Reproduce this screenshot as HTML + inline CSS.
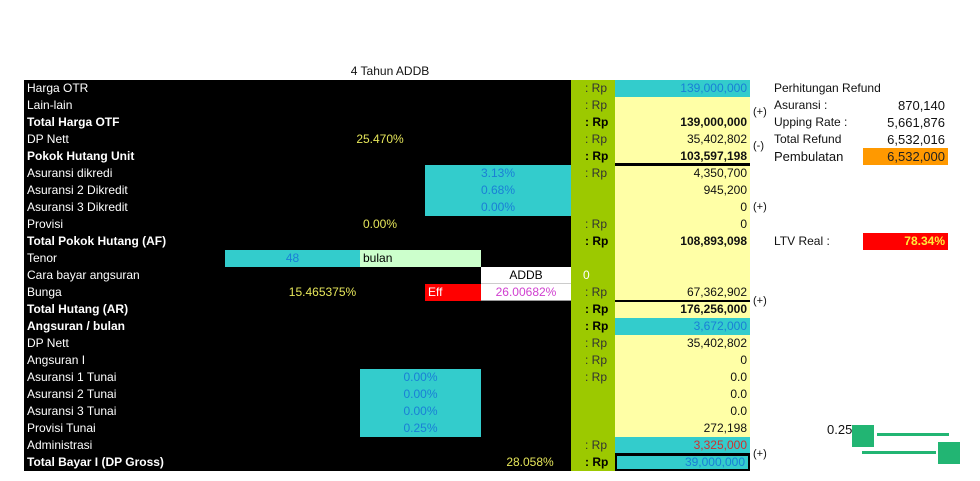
<!DOCTYPE html>
<html><head><meta charset="utf-8"><style>
body{margin:0;width:980px;height:481px;background:#fff;position:relative;overflow:hidden;font-family:"Liberation Sans",sans-serif;font-size:12px}
div.c{position:absolute;height:17px;line-height:17px;box-sizing:border-box;white-space:nowrap;overflow:hidden}
</style></head><body>
<div class="c" style="left:24px;top:80px;width:547px;height:391px;background:#000"></div>
<div class="c" style="left:571px;top:80px;width:44px;height:391px;background:#9cc900"></div>
<div class="c" style="left:615px;top:80px;width:135px;height:391px;background:#ffffa6"></div>
<div class="c" style="left:330px;top:63px;width:120px;text-align:center;color:#111">4 Tahun ADDB</div>
<div id="root"></div>
<script>
const labels=["Harga OTR","Lain-lain","Total Harga OTF","DP Nett","Pokok Hutang Unit","Asuransi dikredi","Asuransi 2 Dikredit","Asuransi 3 Dikredit","Provisi","Total Pokok Hutang (AF)","Tenor","Cara bayar angsuran","Bunga","Total Hutang (AR)","Angsuran / bulan","DP Nett","Angsuran I","Asuransi 1 Tunai","Asuransi 2 Tunai","Asuransi 3 Tunai","Provisi Tunai","Administrasi","Total Bayar I (DP Gross)"];
const bold=[2,4,9,13,14,22];
const rpRows=[0,1,2,3,4,5,8,9,12,13,14,15,16,17,21,22];
const values=["139,000,000","","139,000,000","35,402,802","103,597,198","4,350,700","945,200","0","0","108,893,098","","","67,362,902","176,256,000","3,672,000","35,402,802","0","0.0","0.0","0.0","272,198","3,325,000","39,000,000"];
const R=80,H=17;
function cell(x,y,w,txt,st,name,inter){
 const d=document.createElement('div');d.className='c';
 d.style.cssText=`left:${x}px;top:${y}px;width:${w}px;`+(st||'');
 d.textContent=txt;
 
 
 document.body.appendChild(d);return d;}
labels.forEach((l,i)=>{
 const y=R+H*i,b=bold.includes(i);
 cell(27,y,200,l,'color:#fff;'+(b?'font-weight:bold;':''),'row-label',false);
 if(rpRows.includes(i))cell(585,y,30,': Rp','color:#333;'+(b?'font-weight:bold;color:#000;':''),'rp-label',false);
 let st='text-align:right;padding-right:3px;color:#111;'+(b?'font-weight:bold;':'');
 if(i==0||i==14||i==22)st+='background:#33cccc;color:#1a7fd6;font-weight:normal;';
 if(i==21)st+='background:#33cccc;color:#d03030;';
 if(i==22)st+='border:2px solid #000;line-height:13px;';
 if(values[i]!=='')cell(615,y,135,values[i],st,'value-cell',true);
});
// lines
cell(615,R+H*5-2,135,'','height:3px;background:#000','underline',false);
cell(615,R+H*13-1,135,'','height:2px;background:#000','underline',false);
cell(615,R+H*22-1,135,'','height:2px;background:#000','underline',false);
// percent inputs
const pctDik=["3.13%","0.68%","0.00%"];
pctDik.forEach((p,k)=>cell(425,R+H*(5+k),146,p,'background:#33cccc;color:#1a7fd6;text-align:center','asuransi-kredit-rate',true));
const pctTun=["0.00%","0.00%","0.00%","0.25%"];
pctTun.forEach((p,k)=>cell(360,R+H*(17+k),121,p,'background:#33cccc;color:#1a7fd6;text-align:center','asuransi-tunai-rate',true));
cell(340,R+H*3,80,'25.470%','color:#e6e65a;text-align:center','dp-percent',false);
cell(340,R+H*8,80,'0.00%','color:#e6e65a;text-align:center','provisi-percent',false);
cell(270,R+H*12,105,'15.465375%','color:#e6e65a;text-align:center','bunga-rate',true);
cell(490,R+H*22,80,'28.058%','color:#e6e65a;text-align:center','dp-gross-percent',false);
cell(225,R+H*10,135,'48','background:#33cccc;color:#1a7fd6;text-align:center','tenor-input',true);
cell(360,R+H*10,121,'bulan','background:#ccffcc;color:#000;padding-left:3px','tenor-unit',false);
cell(481,R+H*11,90,'ADDB','background:#fff;color:#000;text-align:center;border-bottom:1px solid #ccc','payment-method',true);
cell(571,R+H*11,30,'0','color:#fff;padding-left:12px','payment-code',false);
cell(425,R+H*12,56,'Eff','background:#f00;color:#fff;padding-left:3px','eff-label',false);
cell(481,R+H*12,90,'26.00682%','background:#fff;color:#d040d0;text-align:center;border-bottom:1px solid #999','eff-rate',false);
// operators
[[1.4,'(+)'],[3.4,'(-)'],[7,'(+)'],[12.5,'(+)'],[21.5,'(+)']].forEach(([r,t])=>cell(753,R+H*r,20,t,'color:#111;font-size:11px','operator-sign',false));
// refund panel
cell(774,80,150,'Perhitungan Refund','color:#111','refund-title',false);
const refL=["Asuransi :","Upping Rate :","Total Refund"],refV=["870,140","5,661,876","6,532,016"];
refL.forEach((l,k)=>{cell(774,R+H*(k+1),90,l,'color:#111','refund-label',false);
 cell(850,R+H*(k+1),95,refV[k],'color:#111;text-align:right;font-size:13px','refund-value',false);});
cell(774,R+H*4,90,'Pembulatan','color:#111;font-size:13px','rounding-label',false);
cell(863,R+H*4,85,'6,532,000','background:#f90;color:#222;text-align:right;padding-right:3px;font-size:13px','rounding-value',false);
cell(774,R+H*9,90,'LTV Real :','color:#111','ltv-label',false);
cell(863,R+H*9,85,'78.34%','background:#f00;color:#ffeb3b;font-weight:bold;text-align:right;padding-right:3px','ltv-value',false);
cell(827,R+H*20+1,25,'0.25','color:#111;font-size:13px','handle-value',false);
cell(852,425,22,'','height:22px;background:#22b573','handle-start',true);
cell(938,442,22,'','height:22px;background:#22b573','handle-end',true);
cell(877,433,72,'','height:3px;background:#22b573','handle-line',false);
cell(862,451,74,'','height:3px;background:#22b573','handle-line',false);
</script>
</body></html>
